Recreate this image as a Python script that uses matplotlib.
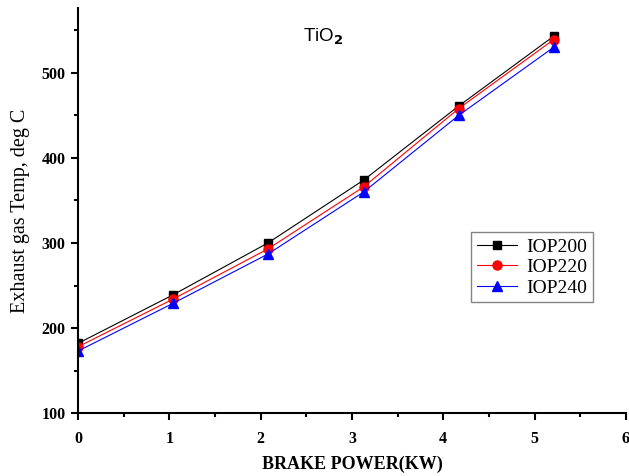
import matplotlib
matplotlib.use("Agg")
import matplotlib.pyplot as plt
from matplotlib.ticker import MultipleLocator

x = [0, 1.04, 2.08, 3.13, 4.17, 5.21]
iop200 = [182, 239, 300, 374, 461, 543]
iop220 = [178, 234, 293, 366, 458, 539]
iop240 = [173, 229, 287, 360, 450, 530]
labels = ["IOP200", "IOP220", "IOP240"]

fig = plt.figure(figsize=(6.29, 4.76), dpi=100)
ax = fig.add_axes([0.124, 0.132, 0.871, 0.851])

ax.plot(x, iop200, color="black", lw=0.8, marker="s", ms=6, label=labels[0])
ax.plot(x, iop220, color="red", lw=0.8, marker="o", ms=6.5, label=labels[1])
ax.plot(x, iop240, color="blue", lw=0.8, marker="^", ms=7, label=labels[2])

ax.set_xlim(0, 6)
ax.set_ylim(100, 576)
ax.xaxis.set_major_locator(MultipleLocator(1))
ax.xaxis.set_minor_locator(MultipleLocator(0.5))
ax.yaxis.set_major_locator(MultipleLocator(100))
ax.yaxis.set_minor_locator(MultipleLocator(50))
for s in ["top", "right"]:
    ax.spines[s].set_visible(False)
for s in ["left", "bottom"]:
    ax.spines[s].set_linewidth(1.5)
ax.tick_params(which="major", length=5, width=1.5, direction="out")
ax.tick_params(which="minor", length=3, width=1.5, direction="out")
ax.tick_params(axis="x", which="major", pad=8)
ax.tick_params(axis="y", which="major", pad=4)

serif = ["Liberation Serif", "DejaVu Serif"]
for lab in ax.get_xticklabels() + ax.get_yticklabels():
    lab.set_fontfamily(serif)
    lab.set_fontweight("bold")
    lab.set_fontsize(11.5)

ax.set_xlabel("BRAKE POWER(KW)", fontfamily=serif, fontweight="bold", fontsize=13, labelpad=6)
ax.set_ylabel("Exhaust gas Temp, deg C", fontfamily=serif, fontsize=14.5, labelpad=8)

ax.text(0.411, 0.93, r"TiO$_{\mathbf{2}}$", transform=ax.transAxes, fontsize=13.5,
        fontfamily="Liberation Sans", ha="left", va="center")

leg = ax.legend(loc="upper left", bbox_to_anchor=(0.717, 0.447), borderaxespad=0,
                prop={"family": serif, "size": 14},
                frameon=True, fancybox=False, edgecolor="#666666", handlelength=2.1,
                borderpad=0.3, labelspacing=0.15, handletextpad=0.45)
leg.get_frame().set_linewidth(1.0)

fig.savefig("out.png", dpi=100)
